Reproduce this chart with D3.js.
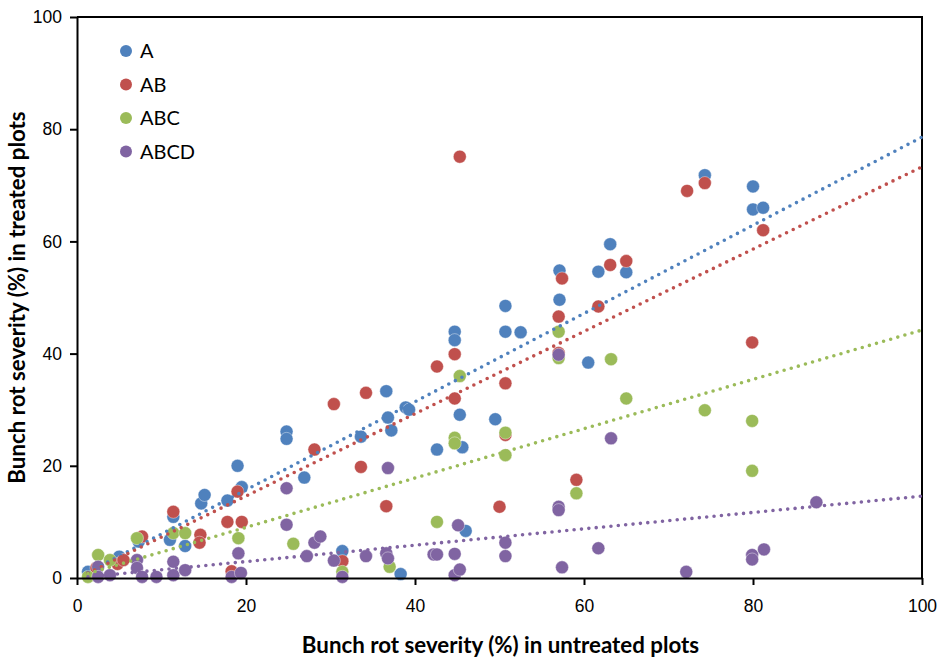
<!DOCTYPE html>
<html>
<head>
<meta charset="utf-8">
<script src="https://cdn.jsdelivr.net/npm/d3@7"></script>
<style>
  body { margin: 0; background: #fff; }
  svg { display: block; font-family: Lato, "Liberation Sans", sans-serif; }
  .axis text { font-size: 17.5px; fill: #000; }
  .axis path, .axis line { stroke: #000; stroke-width: 2px; }
  .axisTitle { font-size: 22.3px; font-weight: bold; }
  .legendLabel { font-size: 20px; }
</style>
</head>
<body>
<div id="chart"></div>
<script>
var seriesNames = ["A", "AB", "ABC", "ABCD"];
var seriesColors = ["#4F81BD", "#C0504D", "#9BBB59", "#8064A2"];

// [untreated, treated] severity pairs
var pointsA = [[1.3,1.1],[5.0,3.8],[7.3,6.5],[11.0,6.8],[11.4,10.9],[12.8,5.7],[14.7,13.3],[15.1,14.8],
  [17.8,13.8],[19.0,20.0],[19.5,16.2],[24.8,26.1],[24.8,24.8],[26.9,17.9],[31.4,4.8],[33.6,25.2],[36.6,33.3],
  [36.8,28.6],[37.2,26.3],[38.3,0.7],[38.9,30.4],[39.3,30.0],[42.6,22.9],[44.7,43.9],[44.7,42.4],[45.3,29.1],
  [45.6,23.3],[46.0,8.4],[49.5,28.3],[50.7,48.5],[50.7,43.9],[52.5,43.8],[57.1,54.8],[57.1,49.6],[60.5,38.4],
  [61.7,54.6],[63.1,59.5],[65.0,54.5],[74.3,71.8],[80.0,69.8],[80.0,65.7],[81.2,66.0]];
var pointsAB = [[2.3,1.8],[4.8,2.5],[5.5,3.2],[7.7,7.4],[11.4,11.8],[14.6,7.7],[14.5,6.3],[17.8,10.0],[19.0,15.4],
  [19.5,10.0],[18.3,1.2],[28.1,22.9],[30.4,31.0],[31.4,3.0],[33.6,19.8],[34.2,33.0],[36.6,12.8],[42.6,37.7],
  [44.7,39.9],[44.7,32.0],[45.3,75.1],[50.0,12.7],[50.7,34.7],[50.7,25.5],[57.0,46.6],[57.4,53.4],[57.0,40.1],
  [59.1,17.5],[61.7,48.4],[63.1,55.8],[65.0,56.5],[72.2,69.0],[74.3,70.4],[79.9,42.0],[81.2,62.0]];
var pointsABC = [[1.3,0.2],[2.5,4.1],[3.9,3.2],[7.1,7.1],[11.4,8.0],[12.8,8.0],[19.1,7.1],[25.6,6.1],[31.4,1.1],
  [37.0,2.0],[42.6,10.0],[44.7,25.0],[44.7,24.0],[45.3,36.0],[50.7,25.9],[50.7,21.9],[57.0,43.9],[57.0,39.2],
  [59.1,15.1],[63.2,39.0],[65.0,32.0],[74.3,29.9],[79.9,28.0],[79.9,19.1]];
var pointsABCD = [[2.5,2.0],[2.5,0.2],[3.9,0.5],[7.1,3.2],[7.1,1.8],[7.7,0.2],[9.4,0.2],[11.4,2.9],[11.4,0.5],
  [12.8,1.4],[18.3,0.2],[19.1,4.4],[19.4,0.9],[24.8,16.0],[24.8,9.5],[27.2,3.9],[28.1,6.3],[28.8,7.4],[30.4,3.1],
  [31.4,0.2],[34.2,3.9],[36.6,4.4],[36.8,3.5],[36.8,19.6],[42.2,4.2],[42.6,4.2],[44.7,4.3],[44.7,0.5],[45.1,9.4],
  [45.3,1.5],[50.7,6.3],[50.7,3.9],[57.0,12.7],[57.0,12.1],[57.0,39.8],[57.4,1.9],[61.7,5.3],[63.2,24.9],
  [72.1,1.1],[79.9,4.1],[79.9,3.3],[81.3,5.1],[87.5,13.5]];

// trend line end points: [x0, y0, x1, y1]
var trendA = [1.3, 1.0, 100, 78.6];
var trendAB = [1.3, 0.9, 100, 73.3];
var trendABC = [1.3, 0.8, 100, 44.2];
var trendABCD = [1.3, 0.2, 100, 14.6];

var xTicks = [0, 20, 40, 60, 80, 100];
var yTicks = [0, 20, 40, 60, 80, 100];

var allPoints = [pointsA, pointsAB, pointsABC, pointsABCD];
var allTrends = [trendA, trendAB, trendABC, trendABCD];

var dims = {width: 951, height: 660, margin: {top: 17, right: 29, bottom: 82, left: 77}};
var plotW = dims.width - dims.margin.left - dims.margin.right;
var plotH = dims.height - dims.margin.top - dims.margin.bottom;

var xScale = d3.scaleLinear().domain([0, 100]).range([0, plotW]);
var yScale = d3.scaleLinear().domain([0, 100]).range([plotH, 0]);

var svg = d3.select("#chart").append("svg")
    .attr("width", dims.width)
    .attr("height", dims.height);

var g = svg.append("g")
    .attr("transform", "translate(" + dims.margin.left + "," + dims.margin.top + ")");

// frame (top and right)
g.append("path")
    .attr("d", "M0,0H" + plotW + "V" + plotH)
    .attr("fill", "none")
    .attr("stroke", "#000")
    .attr("stroke-width", 2);

// markers
allPoints.forEach(function(pts, i) {
    g.selectAll(".pt" + i)
        .data(pts)
        .enter()
        .append("circle")
        .attr("class", "pt" + i)
        .attr("cx", function(d) { return xScale(d[0]); })
        .attr("cy", function(d) { return yScale(d[1]); })
        .attr("r", 6.5)
        .attr("fill", seriesColors[i])
        .attr("stroke", "#fff")
        .attr("stroke-opacity", 0.5)
        .attr("stroke-width", 0.8);
});

// dotted trend lines
allTrends.forEach(function(t, i) {
    g.append("line")
        .attr("x1", xScale(t[0]))
        .attr("y1", yScale(t[1]))
        .attr("x2", xScale(t[2]))
        .attr("y2", yScale(t[3]))
        .attr("stroke", seriesColors[i])
        .attr("stroke-width", 3.6)
        .attr("stroke-linecap", "round")
        .attr("stroke-dasharray", "0,7.4");
});

// axes
g.append("g")
    .attr("class", "axis")
    .attr("transform", "translate(0," + plotH + ")")
    .call(d3.axisBottom(xScale).tickValues(xTicks).tickSize(7).tickSizeOuter(0).tickPadding(15));

g.append("g")
    .attr("class", "axis")
    .call(d3.axisLeft(yScale).tickValues(yTicks).tickSize(7).tickSizeOuter(0).tickPadding(8));

// axis titles
svg.append("text")
    .attr("class", "axisTitle")
    .attr("x", dims.margin.left + plotW / 2 + 1)
    .attr("y", 653)
    .attr("text-anchor", "middle")
    .text("Bunch rot severity (%) in untreated plots");

svg.append("text")
    .attr("class", "axisTitle")
    .attr("transform", "translate(25," + (dims.margin.top + plotH / 2) + ") rotate(-90)")
    .attr("text-anchor", "middle")
    .text("Bunch rot severity (%) in treated plots");

// legend
var legend = g.selectAll(".legendItem")
    .data(seriesNames)
    .enter()
    .append("g")
    .attr("class", "legendItem")
    .attr("transform", function(d, i) { return "translate(49," + (34 + i * 33.5) + ")"; });

legend.append("circle")
    .attr("r", 6)
    .attr("fill", function(d, i) { return seriesColors[i]; });

legend.append("text")
    .attr("class", "legendLabel")
    .attr("x", 14)
    .attr("dy", "0.35em")
    .text(function(d) { return d; });
</script>
</body>
</html>
